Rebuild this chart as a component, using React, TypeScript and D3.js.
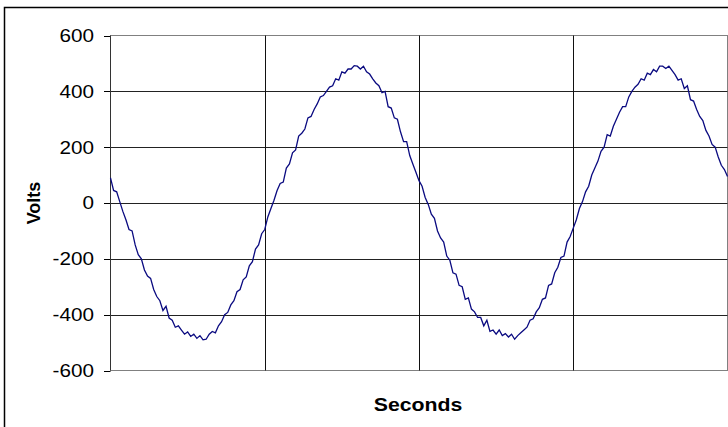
import React from "react";
import * as d3 from "d3";

const yTicks = [600, 400, 200, 0, -200, -400, -600];
const xGrid = [0, 0.01, 0.02, 0.03, 0.04];
const sampleStep = 0.0002;
const volts = [
  90, 45, 40, 5, -30, -60, -95, -100, -150, -185,
  -200, -240, -262, -270, -310, -335, -350, -385, -370, -412,
  -420, -445, -440, -455, -470, -462, -478, -470, -485, -475,
  -490, -488, -470, -460, -465, -440, -425, -400, -392, -365,
  -350, -318, -310, -275, -265, -225, -210, -165, -150, -110,
  -95, -50, -20, 10, 45, 70, 75, 125, 140, 180,
  190, 240, 250, 265, 305, 310, 335, 355, 380, 385,
  400, 415, 420, 445, 440, 470, 465, 480, 480, 492,
  490, 480, 490, 470, 462, 445, 430, 420, 395, 400,
  345, 340, 305, 300, 255, 220, 220, 170, 140, 110,
  80, 60, 20, -5, -40, -55, -100, -125, -140, -190,
  -205, -250, -255, -295, -300, -345, -340, -380, -390, -410,
  -410, -440, -420, -460, -455, -470, -455, -475, -468, -480,
  -470, -488, -475, -465, -455, -445, -420, -415, -390, -375,
  -345, -340, -295, -290, -250, -230, -195, -190, -140, -120,
  -90, -60, -20, 5, 40, 60, 100, 125, 150, 185,
  200, 245, 240, 275, 300, 325, 345, 345, 380, 400,
  415, 425, 445, 440, 465, 460, 478, 470, 490, 490,
  482, 490, 475, 460, 440, 445, 410, 420, 370, 365,
  335, 310, 295, 260, 240, 210, 200, 165, 135, 120,
  95,
];
const times = volts.map((_, i) => i * sampleStep);

const W = 728;
const H = 427;
const left = 110.5;
const right = 727.5;
const top = 35.5;
const bottom = 370.5;

export default function App() {
  const x = d3.scaleLinear().domain([0, 0.04]).range([left, right]);
  const y = d3.scaleLinear().domain([-600, 600]).range([bottom, top]);
  const line = d3
    .line<number>()
    .x((_, i) => x(times[i]))
    .y((d) => y(d));
  const font = "'Liberation Sans', Arial, sans-serif";
  return (
    <svg
      width={W}
      height={H}
      style={{ position: "absolute", left: 0, top: 0, background: "#fff" }}
    >
      <rect x={4.5} y={7.5} width={800} height={500} fill="#fff" stroke="#000" strokeWidth={1.5} />
      <rect x={left} y={top} width={right - left} height={bottom - top} fill="#fff" stroke="#808080" strokeWidth={1} />
      {yTicks.map((t) => (
        <g key={t}>
          {t !== 600 && t !== -600 && (
            <line x1={left} x2={right} y1={Math.round(y(t)) + 0.5} y2={Math.round(y(t)) + 0.5} stroke="#222" strokeWidth={1} />
          )}
          <line x1={104} x2={left} y1={Math.round(y(t)) + 0.5} y2={Math.round(y(t)) + 0.5} stroke="#000" strokeWidth={1} />
          <text
            transform={`translate(94,${y(t)}) scale(1.15,1)`}
            dy="0.36em"
            textAnchor="end"
            fontFamily={font}
            fontSize={18}
            fill="#000"
          >
            {t}
          </text>
        </g>
      ))}
      {xGrid.slice(1, 4).map((t) => (
        <line key={t} x1={Math.round(x(t)) + 0.5} x2={Math.round(x(t)) + 0.5} y1={top} y2={bottom} stroke="#111" strokeWidth={1} />
      ))}
      <line x1={left} x2={left} y1={top} y2={bottom} stroke="#333" strokeWidth={1} />
      <path d={line(volts) || ""} fill="none" stroke="#0a0a80" strokeWidth={1.3} />
      <text
        transform={`translate(40,${(top + bottom) / 2}) rotate(-90)`}
        textAnchor="middle"
        fontFamily={font}
        fontSize={18}
        fontWeight="bold"
      >
        Volts
      </text>
      <text
        transform={`translate(418,411) scale(1.12,1)`}
        textAnchor="middle"
        fontFamily={font}
        fontSize={19}
        fontWeight="bold"
      >
        Seconds
      </text>
    </svg>
  );
}
